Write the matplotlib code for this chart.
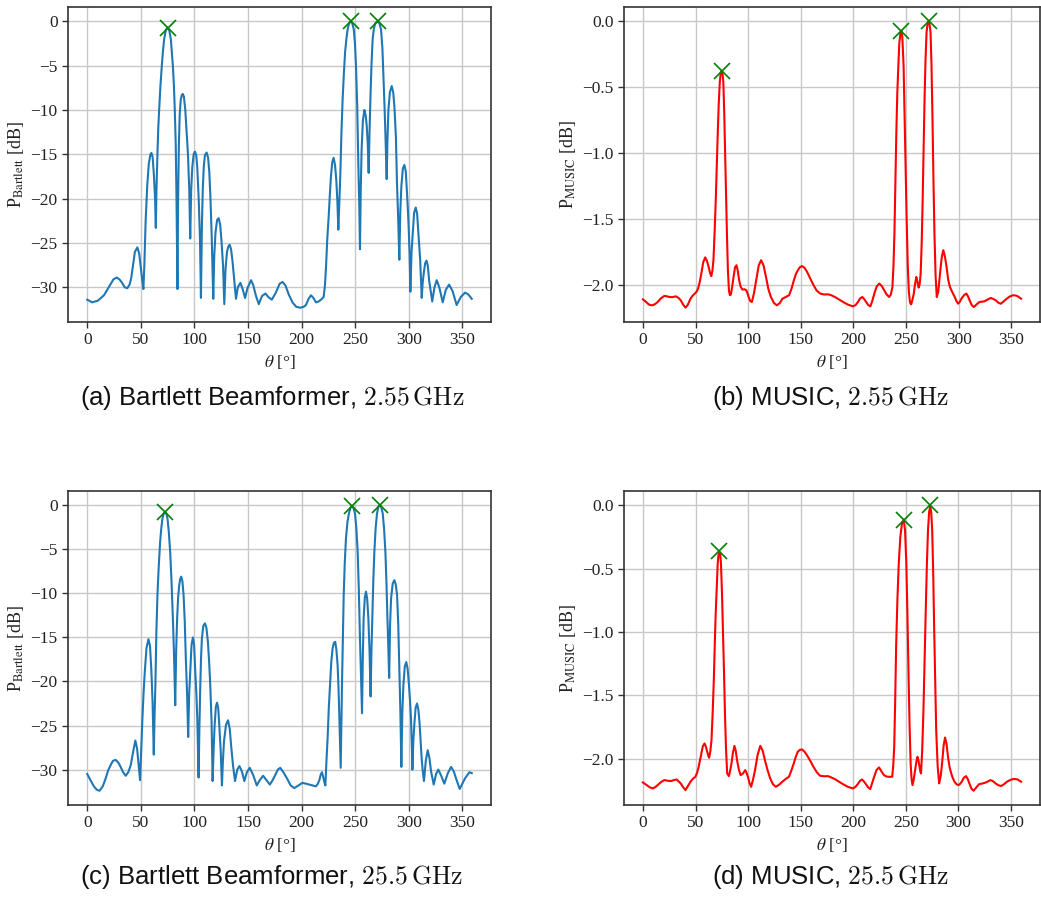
import numpy as np
import matplotlib
matplotlib.use("Agg")
import matplotlib.pyplot as plt

# values, (theta [deg], power [dB]) pairs

# (a) Bartlett, 2.55 GHz
bartlett_255 = [
    (0, -31.4), (4.7, -31.7), (10, -31.5), (15.6, -30.9), (21, -29.8), (24.5, -29.1), (27.5, -28.9),
    (30, -29.1), (32, -29.4), (35, -30.0), (37.4, -30.1), (39.5, -29.7), (41, -29.0), (43, -27.3),
    (44.5, -26.0), (46.8, -25.5), (48.5, -26.2), (50, -27.8), (51.3, -29.2), (52.4, -30.2),
    (53.3, -27.5), (54.5, -22.5), (56, -18.5), (57.5, -16.0), (59, -15.0), (59.9, -14.85),
    (61, -15.3), (62.3, -17.5), (63.3, -20.0), (64, -23.3), (64.6, -19.0), (65.5, -15),
    (66.3, -12), (67.1, -10), (68.3, -7.3), (69.6, -5), (70.7, -3.3), (71.8, -2), (73.3, -1.0),
    (74.9, -0.7), (76.5, -1.0), (78, -2), (79.9, -5), (80.9, -7.3), (81.7, -10), (82.6, -14),
    (83.3, -20), (84.2, -30.2), (84.8, -20), (85.5, -14), (86.3, -10.5), (87.3, -8.8),
    (88.3, -8.3), (89.2, -8.2), (90.2, -8.5), (91.5, -10), (92.8, -12.5), (94, -15), (95.2, -19),
    (96.1, -24.5), (97, -19), (98, -16.5), (99.3, -15.0), (100.5, -14.7), (101.7, -15.1),
    (102.7, -16.5), (104, -20), (105.2, -24.5), (106.1, -31.2), (107, -23), (107.8, -19),
    (108.7, -16.5), (109.8, -15.1), (111.4, -14.8), (112.8, -15.4), (113.9, -17), (115, -20),
    (116.2, -24.5), (117.6, -31.3), (118.5, -26.5), (119.7, -23.8), (121.2, -22.4),
    (122.6, -22.2), (124, -22.9), (125.3, -24.8), (126.7, -27.5), (127.9, -31.9), (129, -28),
    (130.4, -26), (131.7, -25.4), (132.9, -25.2), (134.2, -25.7), (135.5, -27.0), (137, -29),
    (138.8, -31.3), (140.5, -30.0), (142.9, -29.5), (145, -30.2), (147.3, -31.2), (149.5, -30.1),
    (152.9, -29.2), (155, -29.8), (157.5, -31.0), (160.1, -31.9), (163, -31.0), (166.3, -30.7),
    (169, -31.1), (172.2, -31.4), (176, -30.6), (179.5, -29.6), (182.3, -29.4), (185, -29.8),
    (188, -30.8), (191.5, -31.7), (195, -32.2), (198.8, -32.3), (202, -32.2), (204.1, -32.0),
    (206.5, -31.3), (208.8, -30.9), (211, -31.2), (213.5, -31.7), (216, -31.6), (218.1, -31.4),
    (220.6, -31.1), (221.8, -29.8), (222.8, -27.7), (224, -24.5), (225.3, -22.0), (226.4, -19.5),
    (227.4, -17.5), (228.6, -15.9), (229.9, -15.4), (231.2, -16.2), (232.4, -17.9),
    (233.4, -20.3), (234.3, -23.5), (235.2, -20.5), (236.2, -17.1), (237.2, -12.5),
    (238.3, -8.8), (239.4, -6.0), (240.6, -3.5), (241.8, -2.0), (243, -0.9), (244.4, -0.2),
    (245.8, 0.0), (247.3, -0.25), (248.7, -0.9), (249.8, -2.5), (250.8, -5.1), (251.9, -9.5),
    (253.0, -16.4), (253.8, -20.5), (254.5, -25.7), (255.2, -19), (256, -14.5), (257.2, -11.2),
    (258.6, -10.0), (259.8, -10.6), (260.8, -11.8), (261.8, -14.0), (262.6, -17.1),
    (263.4, -12.5), (264.2, -8.8), (265.2, -5.0), (266.3, -2.0), (267.5, -0.8), (268.8, -0.2),
    (271.3, 0.0), (272.7, -0.25), (274.1, -0.9), (275.4, -3.0), (276.6, -6.9), (277.4, -9.6),
    (278.2, -12.6), (279.4, -17.8), (280.1, -13.5), (281.0, -10), (282.4, -8.0), (284.1, -7.3),
    (285.5, -8.0), (286.6, -9.6), (288, -13.0), (289.0, -18.2), (290.2, -22.5), (291.2, -26.9),
    (292.1, -21.5), (293.1, -18.6), (294.5, -16.6), (295.9, -16.2), (297.2, -16.9),
    (298.4, -19.4), (299.3, -21.5), (300.0, -23.5), (300.8, -26.5), (301.5, -30.5),
    (302.6, -26), (303.7, -23.9), (305, -21.6), (306.5, -21.0), (307.8, -21.7), (309, -23.9),
    (310.7, -27.0), (312.1, -31.2), (313.0, -29.5), (314.0, -28.4), (315.3, -27.3),
    (316.5, -27.0), (317.8, -27.6), (319, -29.2), (320.5, -30.4), (321.9, -31.6), (324, -30.0),
    (326.1, -29.2), (328.5, -30.0), (331.7, -31.7), (334.5, -30.3), (337.6, -29.7),
    (340.8, -30.4), (344.7, -32.0), (348.5, -31.1), (352.5, -30.6), (355.5, -30.8),
    (358.8, -31.3)]
peaks_a = [(74.9, -0.7), (245.8, 0.0), (271.3, 0.0)]

# (b) MUSIC, 2.55 GHz
music_255 = [
    (0, -2.107), (3.1, -2.127), (6, -2.148), (9.4, -2.152), (12, -2.140), (14.0, -2.127),
    (17, -2.100), (20.3, -2.081), (22.5, -2.083), (24.9, -2.089), (28, -2.090), (31.2, -2.084),
    (33.7, -2.095), (35.9, -2.114), (38.5, -2.150), (40.5, -2.170), (42.5, -2.150),
    (45.2, -2.102), (47.3, -2.078), (49.3, -2.063), (51, -2.048), (52.4, -2.025), (54, -1.975),
    (55.5, -1.911), (57.3, -1.825), (59.2, -1.789), (60.8, -1.815), (62.4, -1.860),
    (63.7, -1.905), (64.9, -1.931), (66, -1.890), (67.0, -1.810), (68.1, -1.60), (69.2, -1.353),
    (70.1, -1.10), (71.1, -0.845), (72.0, -0.63), (73.0, -0.464), (73.9, -0.39), (74.8, -0.376),
    (75.6, -0.395), (76.4, -0.464), (77.2, -0.68), (78.0, -0.972), (78.9, -1.30), (79.8, -1.607),
    (80.7, -1.88), (81.7, -2.04), (82.6, -2.075), (83.6, -2.07), (84.8, -2.01), (86.1, -1.937),
    (87.5, -1.865), (88.9, -1.848), (90.1, -1.89), (91.4, -1.962), (92.8, -2.010),
    (94.5, -2.033), (96.4, -2.030), (98.2, -2.038), (99.3, -2.060), (100.4, -2.089),
    (102, -2.120), (103.5, -2.127), (105.5, -2.060), (107.6, -1.962), (110, -1.850),
    (112.3, -1.810), (114.6, -1.850), (116.9, -1.937), (119.2, -2.030), (121.6, -2.089),
    (124.5, -2.135), (127.2, -2.152), (130, -2.135), (132.5, -2.102), (135.5, -2.090),
    (138.8, -2.076), (141, -2.030), (143.4, -1.962), (145.3, -1.915), (147.2, -1.886),
    (149.2, -1.862), (151.2, -1.855), (153.5, -1.868), (155.9, -1.898), (159, -1.950),
    (162.1, -2.0), (165, -2.040), (168.4, -2.063), (172, -2.070), (176.2, -2.069),
    (179.3, -2.077), (182.4, -2.089), (186.3, -2.108), (190.2, -2.127), (195, -2.148),
    (199.6, -2.160), (202, -2.150), (204.2, -2.127), (206.3, -2.100), (208.3, -2.089),
    (210.2, -2.105), (212.0, -2.127), (214, -2.150), (216.1, -2.160), (218, -2.115),
    (219.8, -2.063), (222, -2.010), (224.5, -1.987), (226.8, -2.005), (229.2, -2.038),
    (231.5, -2.070), (233.9, -2.089), (235.5, -2.070), (237.0, -2.013), (238.0, -1.85),
    (238.9, -1.607), (239.8, -1.23), (240.7, -0.845), (241.6, -0.55), (242.6, -0.338),
    (243.5, -0.17), (244.5, -0.095), (245.4, -0.071), (246.4, -0.12), (247.6, -0.338),
    (248.5, -0.68), (249.5, -1.099), (250.5, -1.50), (251.6, -1.860), (252.6, -2.05),
    (253.7, -2.130), (254.8, -2.145), (256, -2.110), (257.3, -2.063), (258.5, -1.990),
    (259.7, -1.937), (260.8, -1.975), (261.9, -2.018), (262.9, -1.990), (263.8, -1.911),
    (264.8, -1.68), (265.7, -1.353), (266.6, -0.96), (267.5, -0.591), (268.4, -0.30),
    (269.4, -0.084), (270.3, -0.02), (271.3, 0.0), (272.2, -0.02), (273.2, -0.084),
    (274.1, -0.33), (275.0, -0.718), (275.9, -1.17), (276.9, -1.607), (278, -1.93),
    (279.1, -2.089), (280.5, -2.050), (282.2, -1.911), (283.8, -1.790), (285.3, -1.734),
    (286.8, -1.780), (288.4, -1.860), (290, -1.960), (291.6, -2.013), (294, -2.055),
    (296.2, -2.089), (297.8, -2.120), (299.4, -2.140), (301, -2.125), (302.5, -2.102),
    (305, -2.075), (307.2, -2.063), (308.8, -2.085), (310.3, -2.114), (312.3, -2.150),
    (314.3, -2.165), (317, -2.145), (319.6, -2.127), (324.3, -2.122), (327.5, -2.108),
    (330.5, -2.096), (333, -2.105), (335.2, -2.114), (337.5, -2.132), (339.9, -2.140),
    (342.7, -2.122), (345.5, -2.102), (348.5, -2.085), (351.4, -2.076), (353.5, -2.077),
    (355.5, -2.081), (359.2, -2.102)]
peaks_b = [(74.8, -0.376), (245.6, -0.071), (271.3, 0.0)]

# (c) Bartlett, 25.5 GHz
bartlett_255g = [
    (0, -30.5), (3, -31.2), (6.2, -31.9), (9, -32.3), (11.5, -32.4), (14.5, -31.9), (17.2, -31.0),
    (19.5, -30.1), (21.8, -29.5), (24, -29.0), (26.5, -28.9), (29, -29.2), (31.2, -29.7),
    (33.5, -30.3), (35.9, -30.7), (38.3, -30.3), (40.6, -29.5), (42.8, -28.0), (44.9, -26.7),
    (46.5, -27.6), (47.7, -29.1), (49.3, -31.2), (50.3, -28), (51.5, -24.2), (52.6, -21.2),
    (53.7, -18.9), (55.3, -16.2), (57.1, -15.2), (58.6, -16.0), (59.9, -18.9), (61, -22.5),
    (62.1, -28.3), (62.8, -24), (63.6, -20.4), (64.5, -14.5), (65.5, -10.2), (66.7, -7),
    (68.0, -4.2), (69.1, -2.6), (70.2, -1.5), (71.4, -0.95), (72.7, -0.76), (73.8, -0.95),
    (74.9, -1.5), (76.1, -3.0), (77.4, -5.3), (78.6, -8.5), (79.9, -12.8), (81, -17),
    (82.1, -22.7), (83, -16.5), (83.9, -12.8), (84.8, -10.5), (85.8, -9.1), (86.7, -8.4),
    (87.7, -8.1), (88.8, -8.6), (89.9, -10.2), (91, -13.2), (92.0, -17.4), (93.2, -21.5),
    (94.2, -26.3), (95.1, -21.5), (96.1, -18.9), (97.3, -15.9), (98.6, -15.0), (99.7, -15.8),
    (100.8, -18.9), (101.8, -21.3), (102.7, -24.2), (103.9, -30.9), (104.7, -25), (105.5, -20.4),
    (106.2, -17.3), (107.0, -15.1), (108.3, -13.7), (109.8, -13.4), (111.2, -13.9),
    (112.6, -15.5), (113.7, -17.7), (114.8, -20.4), (116, -24.5), (117.0, -31.3), (118, -27.5),
    (118.9, -24.9), (120, -22.9), (121.1, -22.4), (122.2, -23.0), (123.2, -24.9), (124.5, -27.8),
    (125.7, -31.8), (126.6, -29.0), (127.6, -26.8), (129.5, -24.9), (131.4, -24.4), (133, -25.4),
    (134.2, -27.2), (136, -29.5), (137.9, -31.3), (140, -30.0), (142.0, -29.6), (144.3, -30.2),
    (146.6, -31.3), (149, -30.3), (151.6, -29.8), (154.8, -30.6), (158.2, -31.8), (161, -31.2),
    (164.1, -30.7), (167.3, -31.2), (170.4, -31.7), (173, -31.2), (175.5, -30.6), (177.8, -30.0),
    (180.1, -29.8), (183, -30.3), (186.4, -31.0), (189.8, -31.8), (193.2, -32.1), (197, -31.8),
    (200.9, -31.5), (204, -31.6), (207.2, -31.7), (210.3, -31.8), (213.4, -31.9), (215.2, -31.6),
    (216.6, -31.2), (217.8, -30.6), (219.0, -30.3), (220.1, -30.8), (221.2, -31.4),
    (222.2, -31.8), (223.2, -29.0), (224.3, -26.4), (225.4, -23.0), (226.5, -20.4),
    (227.7, -17.8), (229.0, -16.2), (230.2, -15.6), (231.4, -15.5), (232.5, -16.4),
    (233.6, -18.1), (234.4, -20.5), (235.1, -23.4), (236.5, -29.8), (237.1, -25), (237.7, -20.4),
    (238.5, -15), (239.3, -10.2), (240.3, -6.5), (241.4, -3.8), (242.8, -1.9), (244.2, -0.9),
    (245.6, -0.3), (247.0, -0.1), (248.4, -0.3), (249.8, -0.9), (251.1, -2.6), (252.3, -5.2),
    (253.4, -9.5), (254.4, -14.7), (255.4, -19), (256.4, -23.6), (257.1, -17.5), (257.9, -12.8),
    (259, -10.5), (260.1, -9.8), (261.2, -10.6), (262.3, -12.8), (263.4, -16.5), (264.4, -21.7),
    (265.2, -16.5), (266.0, -12.8), (266.9, -8.7), (267.9, -5.3), (269.1, -2.6), (270.4, -0.9),
    (271.6, -0.2), (272.9, 0.0), (274.3, -0.2), (275.7, -0.9), (277, -2.7), (278.2, -5.3),
    (279.2, -8.8), (280.1, -12.8), (281, -16.3), (281.7, -19.6), (282.6, -13.5), (283.5, -10.6),
    (285, -8.9), (286.6, -8.5), (287.9, -9.0), (289.1, -10.2), (290.2, -13.5), (291.2, -18.5),
    (292.2, -23.5), (293.1, -29.7), (294, -23.5), (295.0, -20.4), (296.3, -18.3), (297.7, -17.8),
    (299, -18.6), (300.2, -20.4), (301.2, -22.2), (302.1, -24.2), (302.8, -27), (303.4, -30.0),
    (304.3, -26.7), (305.2, -24.9), (306.4, -23.0), (307.7, -22.5), (309, -23.2), (310.2, -24.9),
    (311.1, -26.7), (312.0, -28.7), (313.1, -30.2), (314.2, -31.3), (315.9, -29.0),
    (317.7, -27.8), (319.3, -28.7), (320.8, -30.2), (323.3, -31.7), (325.5, -30.5),
    (327.6, -30.0), (330.3, -30.7), (333.2, -31.6), (336.5, -30.4), (339.5, -29.7), (342, -30.2),
    (344.1, -31.0), (347.5, -32.2), (350, -31.6), (352.5, -31.0), (356.6, -30.3), (358.8, -30.4)]
peaks_c = [(72.7, -0.76), (247.0, -0.1), (272.9, 0.0)]

# (d) MUSIC, 25.5 GHz
music_255g = [
    (0, -2.187), (3.7, -2.208), (6.5, -2.225), (9.4, -2.234), (12, -2.222), (14.0, -2.208),
    (17, -2.185), (20.3, -2.168), (23.5, -2.173), (26.5, -2.176), (29.5, -2.168), (32.1, -2.163),
    (34, -2.178), (35.9, -2.194), (38.3, -2.225), (40.5, -2.247), (42.8, -2.215), (45.2, -2.181),
    (47.5, -2.158), (49.9, -2.142), (51.5, -2.110), (53.0, -2.063), (54.3, -2.010),
    (55.5, -1.958), (57, -1.900), (58.6, -1.879), (59.9, -1.905), (61.1, -1.945), (62.1, -1.975),
    (63.0, -1.992), (64.1, -1.940), (65.2, -1.853), (66.3, -1.64), (67.4, -1.380), (68.3, -1.10),
    (69.2, -0.854), (70.2, -0.64), (71.1, -0.460), (71.9, -0.385), (72.7, -0.368),
    (73.5, -0.385), (74.2, -0.460), (75.2, -0.70), (76.1, -0.986), (77.1, -1.32), (78.0, -1.643),
    (79.0, -1.92), (80.1, -2.116), (81.7, -2.137), (82.9, -2.095), (84.2, -2.037),
    (85.6, -1.950), (87.0, -1.898), (88.2, -1.935), (89.5, -2.011), (91.2, -2.085),
    (92.9, -2.129), (95.1, -2.116), (97.3, -2.089), (98.5, -2.110), (99.8, -2.142),
    (101.3, -2.190), (102.9, -2.221), (104.8, -2.160), (106.6, -2.089), (109, -1.970),
    (111.6, -1.898), (113.8, -1.935), (116.0, -2.011), (118.5, -2.090), (121.0, -2.155),
    (123.6, -2.200), (126.3, -2.221), (129.4, -2.205), (132.5, -2.181), (135.6, -2.160),
    (138.8, -2.142), (141, -2.095), (143.4, -2.037), (145.3, -1.985), (147.2, -1.945),
    (149.2, -1.930), (151.2, -1.926), (153.5, -1.943), (155.9, -1.971), (159, -2.015),
    (162.1, -2.063), (165.2, -2.105), (168.4, -2.134), (172.3, -2.138), (176.2, -2.137),
    (179.3, -2.148), (182.4, -2.160), (186.3, -2.180), (190.2, -2.200), (195, -2.222),
    (199.6, -2.234), (202, -2.222), (204.2, -2.200), (206.3, -2.175), (208.3, -2.163),
    (210.2, -2.180), (212.0, -2.200), (214, -2.225), (216.1, -2.239), (218, -2.190),
    (219.8, -2.142), (222, -2.090), (224.5, -2.068), (226.8, -2.100), (229.2, -2.129),
    (231.5, -2.140), (233.9, -2.142), (237.0, -2.142), (238.0, -2.05), (238.9, -1.905),
    (239.8, -1.55), (240.7, -1.117), (241.9, -0.75), (243.2, -0.460), (244.7, -0.25),
    (246.3, -0.14), (247.9, -0.113), (249.2, -0.20), (250.4, -0.460), (251.5, -0.88),
    (252.6, -1.380), (253.5, -1.74), (254.5, -2.037), (255.4, -2.160), (256.3, -2.208),
    (257.5, -2.160), (258.8, -2.089), (260, -2.020), (261.0, -1.984), (262, -2.015),
    (262.9, -2.063), (263.7, -2.100), (264.4, -2.116), (265.5, -1.93), (266.6, -1.643),
    (267.7, -1.24), (268.8, -0.854), (269.9, -0.48), (271.0, -0.197), (272.1, -0.05),
    (273.2, -0.008), (274.1, -0.06), (275.0, -0.197), (276.0, -0.55), (276.9, -0.986),
    (277.9, -1.40), (278.8, -1.774), (280.2, -2.060), (281.6, -2.194), (283, -2.140),
    (284.4, -2.037), (285.8, -1.900), (287.2, -1.832), (288.6, -1.880), (290.0, -1.984),
    (291.5, -2.065), (293.1, -2.116), (294.7, -2.155), (296.2, -2.181), (298, -2.200),
    (300.0, -2.208), (301.5, -2.198), (303.1, -2.181), (305, -2.150), (307.2, -2.137),
    (308.8, -2.160), (310.3, -2.194), (312.3, -2.235), (314.3, -2.252), (317, -2.225),
    (319.6, -2.200), (322.8, -2.195), (325.9, -2.187), (328.2, -2.178), (330.5, -2.168),
    (333, -2.178), (335.2, -2.194), (337.8, -2.208), (340.5, -2.215), (343.3, -2.200),
    (346.1, -2.181), (349, -2.168), (351.7, -2.160), (354, -2.160), (356.1, -2.163),
    (359.5, -2.181)]
peaks_d = [(72.7, -0.36), (247.9, -0.113), (273.2, 0.0)]

captions = ["(a) Bartlett Beamformer, ", "(b) MUSIC, ", "(c) Bartlett Beamformer, ", "(d) MUSIC, "]
freqs = [r"$2.55\,\mathrm{GHz}$", r"$2.55\,\mathrm{GHz}$", r"$25.5\,\mathrm{GHz}$", r"$25.5\,\mathrm{GHz}$"]
ylabels = [r"P$_\mathrm{Bartlett}$ [dB]", r"P$_\mathrm{MUSIC}$ [dB]",
           r"P$_\mathrm{Bartlett}$ [dB]", r"P$_\mathrm{MUSIC}$ [dB]"]

plt.rcParams['font.family'] = ['Liberation Serif', 'DejaVu Serif']
plt.rcParams['mathtext.fontset'] = 'stix'

W, H = 1041, 900
fig = plt.figure(figsize=(W / 100, H / 100), dpi=100)

# axes boxes in pixels: left, right, top, bottom
boxes = [(68, 491, 7, 322), (624, 1040, 7, 322), (68, 491, 491, 805), (624, 1040, 491, 805)]
series = [(bartlett_255, peaks_a, '#1f77b4'), (music_255, peaks_b, 'red'),
          (bartlett_255g, peaks_c, '#1f77b4'), (music_255g, peaks_d, 'red')]
cap_xy = [(272, 398), (831, 398), (272, 877), (831, 877)]

for i, (l, r, t, b) in enumerate(boxes):
    ax = fig.add_axes([l / W, 1 - b / H, (r - l) / W, (b - t) / H])
    curve, peaks, col = series[i]
    th, p = zip(*curve)
    pth, pp = zip(*peaks)
    ax.plot(th, p, color=col, lw=1.5)
    ax.plot(pth, pp, 'x', color='green', ms=11, mew=1.2)
    ax.set_xticks(np.arange(0, 351, 50))
    ax.grid(True, color='#c8c8c8', lw=1.0)
    ax.set_axisbelow(True)
    for s in ax.spines.values():
        s.set_color('#333333')
        s.set_linewidth(1.2)
    ax.tick_params(colors='#333333', labelcolor='#222222', length=4, width=1.0, labelsize=12.5)
    ax.set_xlabel(r"$\theta$ [°]", fontsize=12.5, color='#222222', labelpad=3)
    ax.set_ylabel(ylabels[i], fontsize=13, color='#222222', labelpad=3)
    cx, cy = cap_xy[i]
    fig.text(cx / W, 1 - cy / H, captions[i] + freqs[i], ha='center', va='center', fontsize=18.5,
             family=['Liberation Sans', 'DejaVu Sans'], math_fontfamily='cm', color='#111111')

fig.savefig("out.png", dpi=100)
